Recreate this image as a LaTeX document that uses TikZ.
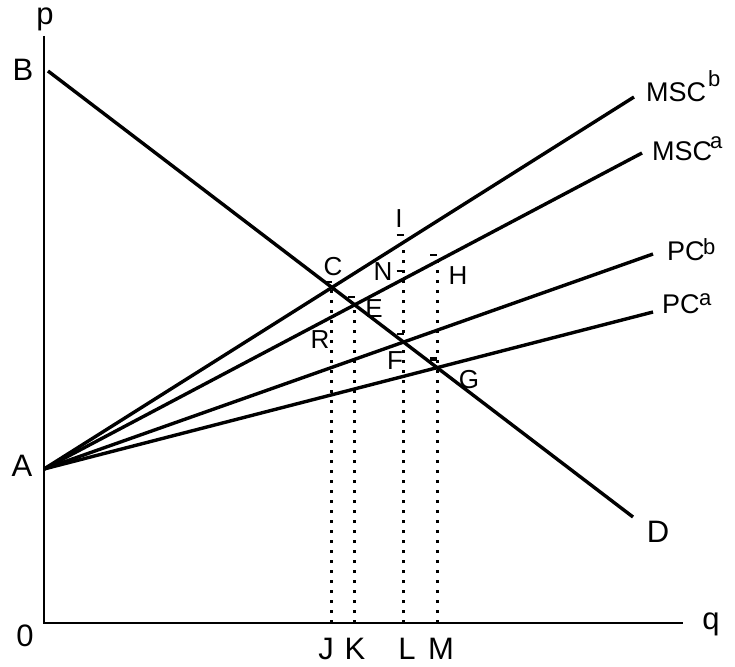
\documentclass[tikz,border=0pt]{standalone}
\usepackage{fontspec}
\setmainfont{Liberation Sans}
\usetikzlibrary{intersections,calc}
\begin{document}
\begin{tikzpicture}[x=1pt,y=-1pt,
  axisline/.style={line width=2.2pt},
  curveline/.style={line width=3.4pt},
  dropline/.style={line width=3pt, dash pattern=on 3pt off 7pt},
  tickmark/.style={line width=2pt},
  biglab/.style={font=\fontsize{31}{32}\selectfont, inner sep=0pt, anchor=base},
  midlab/.style={font=\fontsize{26}{28}\selectfont, inner sep=0pt, anchor=base},
  curvelab/.style={font=\fontsize{27}{28}\selectfont, inner sep=0pt, anchor=base west},
  suplab/.style={font=\fontsize{22}{24}\selectfont, inner sep=0pt, anchor=base west}]
\useasboundingbox (0,0) rectangle (735,666);
\fill[white] (0,0) rectangle (735,666);
% key coordinates
\coordinate (O) at (44,623);
\coordinate (Ptop) at (44,36);
\coordinate (Qend) at (683,623);
\coordinate (A) at (44,469);
\coordinate (B) at (48,71);
\coordinate (Dend) at (633,517);
\coordinate (MSCbE) at (634,97);
\coordinate (MSCaE) at (642,153);
\coordinate (PCbE) at (653,254);
\coordinate (PCaE) at (653,312);
% axes
\draw[axisline] (Ptop) -- (O) -- (Qend);
% curves
\draw[curveline, name path=bd] (B) -- (Dend);
\draw[curveline, name path=mscb] (A) -- (MSCbE);
\draw[curveline, name path=msca] (A) -- (MSCaE);
\draw[curveline, name path=pcb] (A) -- (PCbE);
\draw[curveline, name path=pca] (A) -- (PCaE);
% intersections
\path[name intersections={of=bd and mscb, by=C}];
\path[name intersections={of=bd and msca, by=E}];
\path[name intersections={of=bd and pcb, by=F}];
\path[name intersections={of=bd and pca, by=G}];
\path[name path=vj] (C) -- ++(0,-300);
\path[name path=vl] (F) -- ++(0,-300);
\path[name path=vm] (G) -- ++(0,-300);
\path[name intersections={of=vj and msca, by=R}];
\path[name intersections={of=vl and mscb, by=I}];
\path[name intersections={of=vl and msca, by=N}];
\path[name intersections={of=vm and msca, by=H}];
% drop lines
\draw[dropline] (C |- O) -- (C);
\draw[dropline] (E |- O) -- (E);
\draw[dropline] (I |- O) -- (I);
\draw[dropline] (H |- O) -- (H);
% small tick marks
\foreach \p/\dy in {C/-5,E/-8,F/-8,G/-10,R/-8,I/-7,N/-8,H/-6}
  \draw[tickmark] ($(\p)+(-7,\dy)$) -- ++(7,0);
% axis labels
\node[biglab] (lp) at (45,25) {p};
\node[biglab] (lB) at (23,81) {B};
\node[biglab] (lA) at (22,476) {A};
\node[biglab] (l0) at (25,646) {0};
\node[biglab] (lq) at (711,629) {q};
\node[biglab] (lD) at (658,542) {D};
\node[biglab] (lJ) at (326,659) {J};
\node[biglab] (lK) at (355,659) {K};
\node[biglab] (lL) at (407,659) {L};
\node[biglab] (lM) at (441,659) {M};
% point labels
\node[midlab] (lC) at (333,275) {C};
\node[midlab] (lN) at (383,280) {N};
\node[midlab] (lH) at (458,284) {H};
\node[midlab] (lE) at (374,317) {E};
\node[midlab] (lR) at (320,348) {R};
\node[midlab] (lF) at (395,369) {F};
\node[midlab] (lG) at (469,388) {G};
\node[midlab] (lI) at (399,227) {I};
% curve labels
\node[curvelab] (lmscb) at (646,102) {MSC};
\node[suplab] (lmscbs) at (708,87) {b};
\node[curvelab] (lmsca) at (652,160) {MSC};
\node[suplab] (lmscas) at (710,148) {a};
\node[curvelab] (lpcb) at (667,260) {PC};
\node[suplab] (lpcbs) at (703,254) {b};
\node[curvelab] (lpca) at (662,313) {PC};
\node[suplab] (lpcas) at (699,305) {a};
\end{tikzpicture}
\end{document}
